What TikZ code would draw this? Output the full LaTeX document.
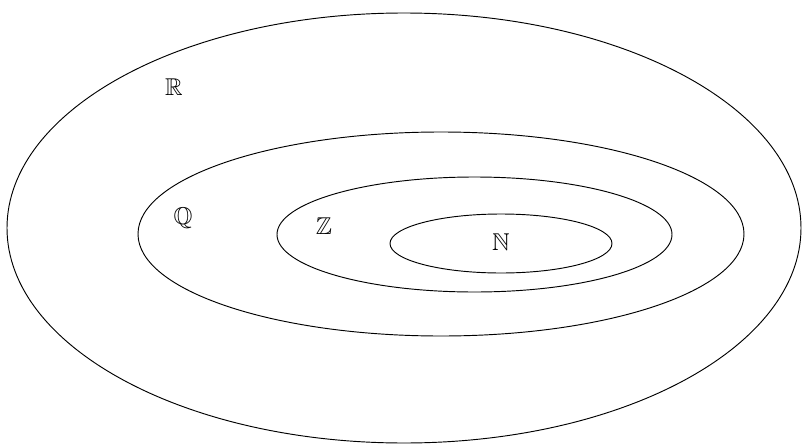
\documentclass[tikz,border=0pt]{standalone}
\usepackage{amssymb}
\begin{document}
\begin{tikzpicture}[x=0.03cm,y=-0.03cm,line width=0.8pt]
  \useasboundingbox (0,0) rectangle (803,446);
  \foreach \cx/\cy/\rx/\ry in {404/228/397/215, 441/234/303/102, 474.5/234.5/197.5/57.5, 501/243.5/111/29.5}{
    \draw (\cx,\cy) ellipse ({\rx*0.03cm} and {\ry*0.03cm});
  }
  \node (R) at (174,87) {\huge$\mathbb{R}$};
  \node (Q) at (183,218) {\huge$\mathbb{Q}$};
  \node (Z) at (324,226) {\huge$\mathbb{Z}$};
  \node (N) at (501,242) {\huge$\mathbb{N}$};
\end{tikzpicture}
\end{document}
